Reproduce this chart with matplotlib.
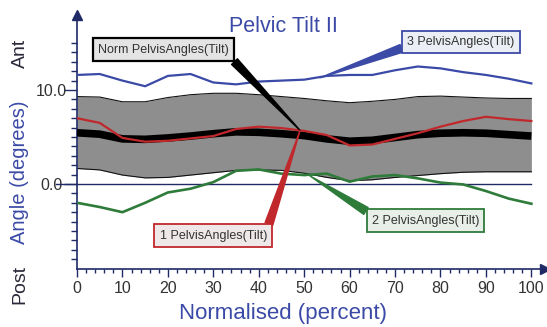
import matplotlib
matplotlib.use("Agg")
import matplotlib.pyplot as plt
import numpy as np

plt.rcParams['font.family'] = ['Liberation Sans', 'DejaVu Sans']

# Gait cycle (percent) and pelvic tilt angles (degrees)
cycle = [0, 5, 10, 15, 20, 25, 30, 35, 40, 45, 50,
         55, 60, 65, 70, 75, 80, 85, 90, 95, 100]
norm_upper = [9.3, 9.25, 8.75, 8.75, 9.2, 9.5, 9.65, 9.65, 9.5, 9.3, 9.1,
              8.85, 8.65, 8.8, 9.0, 9.3, 9.35, 9.25, 9.15, 9.1, 9.1]
norm_lower = [1.65, 1.5, 0.95, 0.65, 0.7, 0.95, 1.2, 1.45, 1.5, 1.45, 1.15,
              0.7, 0.35, 0.45, 0.7, 0.9, 1.1, 1.25, 1.3, 1.3, 1.3]
norm_mean = [5.45, 5.3, 4.8, 4.75, 4.9, 5.1, 5.35, 5.55, 5.5, 5.35, 5.15,
             4.8, 4.55, 4.65, 4.95, 5.25, 5.4, 5.45, 5.4, 5.25, 5.1]
trial_1 = [7.0, 6.5, 4.9, 4.5, 4.6, 4.85, 5.1, 5.85, 6.1, 5.95, 5.65,
           5.2, 4.1, 4.2, 4.8, 5.4, 6.1, 6.7, 7.15, 6.9, 6.7]
trial_2 = [-2.0, -2.45, -3.0, -2.0, -0.9, -0.5, 0.2, 1.4, 1.55, 1.1, 0.95,
           1.1, 0.25, 0.8, 0.95, 0.6, 0.15, -0.05, -0.75, -1.55, -2.1]
trial_3 = [11.6, 11.7, 11.0, 10.4, 11.5, 11.7, 10.8, 10.6, 10.9, 11.0, 11.1,
           11.5, 11.6, 11.6, 12.1, 12.5, 12.3, 11.9, 11.6, 11.2, 10.7]

x_ticks = [0, 10, 20, 30, 40, 50, 60, 70, 80, 90, 100]
y_ticks = [0.0, 10.0]
y_ticklabels = ["0.0", "10.0"]

NAVY = '#1f2a66'
BLUE = '#3b4aa6'
RED = '#c0282c'
GREEN = '#2e7b3a'
TICK_TXT = '#333333'

W, H = 547, 327
fig = plt.figure(figsize=(W / 100, H / 100), dpi=100)
ax = fig.add_axes([77 / W, 1 - 268.6 / H, 468 / W, 253.8 / H])
ax.set_xlim(0, 103)
ax.set_ylim(-9, 18)

# normal band and mean
ax.fill_between(cycle, norm_lower, norm_upper, color='#8e8e8e', lw=0, zorder=1)
ax.plot(cycle, norm_upper, color='#111111', lw=0.8, zorder=2)
ax.plot(cycle, norm_lower, color='#111111', lw=0.8, zorder=2)
# zero reference line, running out to the 0.0 label
ax.plot([-4.6, 100], [0, 0], color=NAVY, lw=1.0, zorder=2, clip_on=False)
ax.plot(cycle, norm_mean, color='black', lw=5.5, zorder=3, solid_capstyle='butt')

ax.plot(cycle, trial_1, color=RED, lw=1.6, zorder=4)
ax.plot(cycle, trial_2, color=GREEN, lw=1.9, zorder=4)
ax.plot(cycle, trial_3, color=BLUE, lw=1.6, zorder=4)

# axes styling
for s in ('top', 'right'):
    ax.spines[s].set_visible(False)
for s in ('left', 'bottom'):
    ax.spines[s].set_color(NAVY)
    ax.spines[s].set_linewidth(1.2)
ax.plot(1, 0, '>', color=NAVY, ms=7, transform=ax.transAxes, clip_on=False)
ax.plot(0, 1, '^', color=NAVY, ms=7, transform=ax.transAxes, clip_on=False)

ax.set_xticks(x_ticks)
ax.set_xticks(np.arange(0, 101, 2), minor=True)
ax.set_yticks(y_ticks)
ax.set_yticklabels(y_ticklabels)
ax.set_yticks(np.arange(-8, 16, 1), minor=True)
ax.tick_params(axis='x', which='major', direction='out', length=6, width=1,
               color=NAVY, labelsize=11.5, labelcolor=TICK_TXT, pad=3)
ax.tick_params(axis='x', which='minor', direction='out', length=3, width=1,
               color=NAVY)
ax.tick_params(axis='y', which='major', direction='out', length=9.5, width=1,
               color=NAVY, labelsize=11.5, labelcolor=TICK_TXT, pad=9)
ax.tick_params(axis='y', which='minor', direction='out', length=4.5, width=1,
               color=NAVY)
for t in ax.get_yticklabels():
    t.set_horizontalalignment('center')

# annotation labels
def label(text, xy, xytext, ec, fc, relpos, lw=1.3):
    ax.annotate(text, xy=xy, xytext=xytext, textcoords='data',
                ha='center', va='center', fontsize=9, color='#333333',
                zorder=6,
                bbox=dict(boxstyle='square,pad=0.42', fc=fc, ec=ec, lw=lw),
                arrowprops=dict(arrowstyle='wedge,tail_width=0.65,shrink_factor=0.5',
                                fc=ec, ec=ec, relpos=relpos,
                                shrinkA=0, shrinkB=0))

label("Norm PelvisAngles(Tilt)", (49.1, 5.7), (19.0, 14.3), 'black', '#e4e4e4', (1, 0), lw=1.6)
label("3 PelvisAngles(Tilt)", (53.5, 11.3), (84.5, 15.1), BLUE, '#eceef5', (0, 0.15))
label("1 PelvisAngles(Tilt)", (49.1, 5.7), (30.0, -5.5), RED, '#efe8e8', (1, 1))
label("2 PelvisAngles(Tilt)", (51.3, 0.85), (76.7, -3.9), GREEN, '#e8eee8', (0, 1))

# titles and axis labels
fig.text(283 / W, 1 - 27 / H, "Pelvic Tilt II", color=BLUE, fontsize=15.5,
         ha='center', va='center')
fig.text(283 / W, 1 - 313 / H, "Normalised (percent)", color=BLUE, fontsize=16,
         ha='center', va='center')
fig.text(20 / W, 1 - 53 / H, "Ant", color='#2a2a3a', fontsize=14, rotation=90,
         ha='center', va='center')
fig.text(20 / W, 1 - 172 / H, "Angle (degrees)", color=BLUE, fontsize=14.5,
         rotation=90, ha='center', va='center')
fig.text(20 / W, 1 - 284 / H, "Post", color='#2a2a3a', fontsize=14, rotation=90,
         ha='center', va='center')

fig.savefig("out.png", dpi=100)
